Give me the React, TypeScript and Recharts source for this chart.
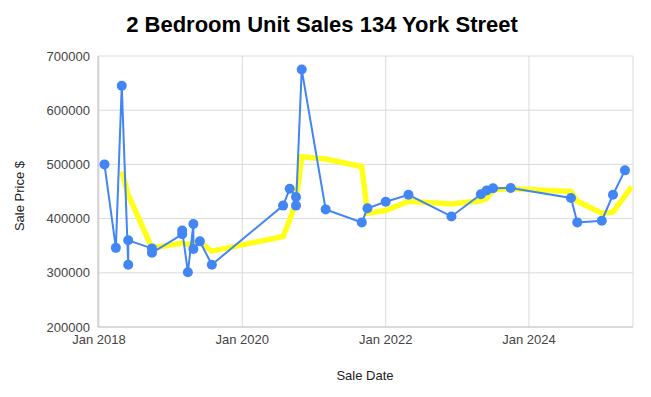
import { CartesianGrid, Line, LineChart, XAxis, YAxis } from 'recharts';

// sale dates and prices (blue series)
const saleDates = [
  '2018-01-29', '2018-03-28', '2018-04-27', '2018-05-30', '2018-05-30',
  '2018-09-28', '2018-09-28', '2019-03-01', '2019-03-01', '2019-03-30',
  '2019-04-27', '2019-04-27', '2019-05-30', '2019-07-30', '2020-07-27',
  '2020-08-30', '2020-10-01', '2020-10-01', '2020-10-30', '2021-03-01',
  '2021-09-01', '2021-09-30', '2022-01-01', '2022-04-27', '2022-12-02',
  '2023-05-01', '2023-05-30', '2023-07-02', '2023-09-30', '2024-08-02',
  '2024-09-03', '2025-01-06', '2025-03-04', '2025-05-04',
];
const salePrices = [
  500000, 346000, 645000, 315000, 360000,
  345000, 337000, 371000, 378000, 301000,
  390000, 344000, 358000, 315000, 424000,
  455000, 440000, 424000, 675000, 417000,
  393000, 419000, 431000, 444000, 404000,
  445000, 452000, 456000, 456500, 438000,
  393000, 396000, 444000, 489000,
];

// moving average trend (yellow line)
const trendDates = [
  '2018-04-27', '2018-05-30', '2018-09-28', '2019-03-01', '2019-03-30',
  '2019-04-27', '2019-05-30', '2019-07-30', '2020-07-27', '2020-08-30',
  '2020-10-01', '2020-10-30', '2021-03-01', '2021-09-01', '2021-09-30',
  '2022-01-01', '2022-04-27', '2022-12-02', '2023-05-01', '2023-05-30',
  '2023-07-02', '2023-09-30', '2024-08-02', '2024-09-03', '2025-01-06',
  '2025-03-04', '2025-06-07',
];
const trendPrices = [
  487000, 444000, 346000, 355000, 352000,
  355000, 356000, 340000, 367000, 398000,
  432000, 514000, 510000, 496000, 410000,
  415000, 432000, 427000, 433000, 437000,
  453000, 455000, 450000, 432000, 410000,
  412000, 459000,
];

const xTickYears = [2018, 2020, 2022, 2024];
const yTicks = [200000, 300000, 400000, 500000, 600000, 700000];

const toTime = (d: string) => Date.parse(d + 'T00:00:00Z');

const sales = saleDates.map((d, i) => ({ t: toTime(d), price: salePrices[i] }));
const trend = trendDates.map((d, i) => ({ t: toTime(d), price: trendPrices[i] }));
const xTicks = xTickYears.map((y) => Date.UTC(y, 0, 1));

const X_DOMAIN = [Date.UTC(2017, 11, 27), Date.UTC(2025, 5, 14)];

const FONT = '"Liberation Sans", Arial, sans-serif';
const TICK_STYLE = { fontSize: 13, fill: '#444', fontFamily: FONT };

const formatYear = (t: number) => `Jan ${new Date(t).getUTCFullYear()}`;

export default function App() {
  return (
    <div
      style={{
        position: 'fixed',
        left: 0,
        top: 0,
        width: 651,
        height: 397,
        background: '#fff',
      }}
    >
      <LineChart
        width={651}
        height={397}
        margin={{ top: 56, right: 18, bottom: 40, left: 0 }}
      >
        <CartesianGrid stroke="#dadada" strokeWidth={1} />
        <XAxis
          dataKey="t"
          type="number"
          scale="time"
          domain={X_DOMAIN}
          ticks={xTicks}
          tickFormatter={formatYear}
          tick={TICK_STYLE}
          tickLine={false}
          tickSize={0}
          tickMargin={8}
          axisLine={{ stroke: '#c8c8c8' }}
          height={30}
          allowDataOverflow
        />
        <YAxis
          type="number"
          domain={[200000, 700000]}
          ticks={yTicks}
          tick={TICK_STYLE}
          tickLine={false}
          tickSize={0}
          tickMargin={8}
          axisLine={{ stroke: '#c8c8c8' }}
          width={98}
          allowDataOverflow
        />
        <Line
          data={trend}
          dataKey="price"
          stroke="#ffff1a"
          strokeWidth={5.5}
          dot={false}
          activeDot={false}
          isAnimationActive={false}
        />
        <Line
          data={sales}
          dataKey="price"
          stroke="#4285f4"
          strokeWidth={2}
          dot={{ r: 5, fill: '#4285f4', stroke: '#4285f4', strokeWidth: 0 }}
          activeDot={false}
          isAnimationActive={false}
        />
      </LineChart>

      <svg
        width={651}
        height={397}
        style={{ position: 'absolute', left: 0, top: 0, pointerEvents: 'none' }}
      >
        <text
          x={322}
          y={32}
          textAnchor="middle"
          fontFamily={FONT}
          fontSize={22}
          fontWeight="bold"
          fill="#000"
        >
          2 Bedroom Unit Sales 134 York Street
        </text>
        <text
          x={365}
          y={380}
          textAnchor="middle"
          fontFamily={FONT}
          fontSize={13}
          fill="#222"
        >
          Sale Date
        </text>
        <text
          x={24}
          y={196}
          textAnchor="middle"
          fontFamily={FONT}
          fontSize={13}
          fill="#222"
          transform="rotate(-90 24 196)"
        >
          Sale Price $
        </text>
      </svg>
    </div>
  );
}
